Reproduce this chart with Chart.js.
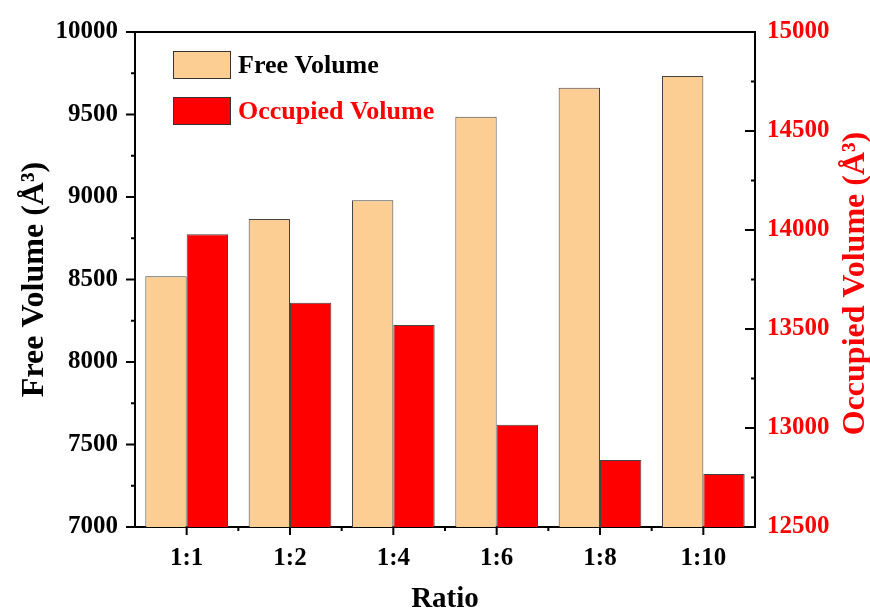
<!DOCTYPE html>
<html>
<head>
<meta charset="utf-8">
<script src="https://cdn.jsdelivr.net/npm/chart.js@4.4.1/dist/chart.umd.min.js"></script>
<style>
  html, body { margin: 0; padding: 0; background: #fff; }
  #wrap { width: 870px; height: 608px; position: relative; }
</style>
</head>
<body>
<div id="wrap"><canvas id="volumeChart"></canvas></div>
<script>
// values
const ratios = ['1:1', '1:2', '1:4', '1:6', '1:8', '1:10'];
const freeVolume = [8520, 8866, 8980, 9486, 9662, 9734];
const occupiedVolume = [13979, 13633, 13520, 13017, 12838, 12768];
const leftTicks = [7000, 7500, 8000, 8500, 9000, 9500, 10000];
const rightTicks = [12500, 13000, 13500, 14000, 14500, 15000];

const serif = "'Times New Roman', 'Liberation Serif', serif";
Chart.defaults.font.family = serif;

// ticks, frame, legend and right title drawn by hand
const decor = {
    id: 'decor',
    afterDraw(chart) {
        const ctx = chart.ctx;
        const area = chart.chartArea;
        const x = chart.scales.x;
        const y = chart.scales.y;
        const y1 = chart.scales.y1;

        ctx.save();
        ctx.strokeStyle = '#000';
        ctx.lineWidth = 2;

        // top frame line
        ctx.beginPath();
        ctx.moveTo(area.left - 1, area.top);
        ctx.lineTo(area.right + 1, area.top);
        ctx.stroke();

        ctx.beginPath();
        // left axis: outward ticks
        for (let v = y.min; v <= y.max; v += 250) {
            const py = y.getPixelForValue(v);
            const len = v % 500 === 0 ? 9 : 4;
            ctx.moveTo(area.left - len, py);
            ctx.lineTo(area.left, py);
        }
        // right axis: inward ticks
        for (let v = y1.min; v <= y1.max; v += 250) {
            const py = y1.getPixelForValue(v);
            const len = v % 500 === 0 ? 10 : 4;
            ctx.moveTo(area.right - len, py);
            ctx.lineTo(area.right, py);
        }
        // bottom axis
        const step = x.getPixelForValue(1) - x.getPixelForValue(0);
        for (let i = 0; i < ratios.length; i++) {
            const px = x.getPixelForValue(i);
            ctx.moveTo(px, area.bottom);
            ctx.lineTo(px, area.bottom + 8);
            if (i > 0) {
                ctx.moveTo(px - step / 2, area.bottom);
                ctx.lineTo(px - step / 2, area.bottom + 4);
            }
        }
        ctx.stroke();

        // legend
        const sets = chart.data.datasets;
        const textColors = ['#000', '#ff0000'];
        ctx.font = 'bold 26px ' + serif;
        ctx.textBaseline = 'middle';
        ctx.textAlign = 'left';
        sets.forEach((ds, i) => {
            const bx = area.left + 38;
            const by = area.top + 19 + i * 46;
            ctx.fillStyle = ds.backgroundColor;
            ctx.fillRect(bx, by, 57, 27);
            ctx.lineWidth = 1;
            ctx.strokeStyle = '#333';
            ctx.strokeRect(bx + 0.5, by + 0.5, 57, 27);
            ctx.fillStyle = textColors[i];
            ctx.fillText(ds.label, bx + 65, by + 15);
        });

        // right axis title, reading upwards
        ctx.translate(856, (area.top + area.bottom) / 2 + 4);
        ctx.rotate(-Math.PI / 2);
        ctx.textAlign = 'center';
        ctx.fillStyle = '#ff0000';
        ctx.font = 'bold 32px ' + serif;
        ctx.fillText('Occupied Volume (Å³)', 0, 0);
        ctx.restore();
    }
};

const plain = v => String(v);

const ctx = document.getElementById('volumeChart').getContext('2d');
new Chart(ctx, {
    type: 'bar',
    data: {
        labels: ratios,
        datasets: [{
            label: 'Free Volume',
            data: freeVolume,
            yAxisID: 'y',
            backgroundColor: '#fcce94',
            borderColor: '#444',
            borderWidth: 1,
            categoryPercentage: 0.8,
            barPercentage: 1.0
        }, {
            label: 'Occupied Volume',
            data: occupiedVolume,
            yAxisID: 'y1',
            backgroundColor: '#ff0000',
            borderColor: '#444',
            borderWidth: 1,
            categoryPercentage: 0.8,
            barPercentage: 1.0
        }]
    },
    options: {
        responsive: true,
        maintainAspectRatio: false,
        animation: false,
        layout: { padding: { top: 27, left: 0, right: 0, bottom: 0 } },
        plugins: {
            legend: { display: false },
            tooltip: { enabled: false }
        },
        scales: {
            x: {
                offset: true,
                grid: { display: false, drawTicks: false },
                border: { display: true, color: '#000', width: 2 },
                ticks: { color: '#000', font: { size: 25, weight: 'bold' }, padding: 17 },
                title: { display: true, text: 'Ratio', color: '#000', font: { size: 29, weight: 'bold' }, padding: { top: 0, bottom: -9 } },
                afterFit(scale) { scale.height = 81; }
            },
            y: {
                position: 'left',
                min: 7000,
                max: 10000,
                afterBuildTicks(scale) { scale.ticks = leftTicks.map(v => ({ value: v })); },
                grid: { display: false, drawTicks: false },
                border: { display: true, color: '#000', width: 2 },
                ticks: { color: '#000', font: { size: 25, weight: 'bold' }, padding: 17, callback: plain },
                title: { display: true, text: 'Free Volume (Å³)', color: '#000', font: { size: 32, weight: 'bold' }, padding: { top: 16, bottom: 0 } },
                afterFit(scale) { scale.width = 135; }
            },
            y1: {
                position: 'right',
                min: 12500,
                max: 15000,
                afterBuildTicks(scale) { scale.ticks = rightTicks.map(v => ({ value: v })); },
                grid: { display: false, drawTicks: false },
                border: { display: true, color: '#000', width: 2 },
                ticks: { color: '#ff0000', font: { size: 25, weight: 'bold' }, padding: 12, callback: plain },
                afterFit(scale) { scale.width = 115; }
            }
        }
    },
    plugins: [decor]
});
</script>
</body>
</html>
